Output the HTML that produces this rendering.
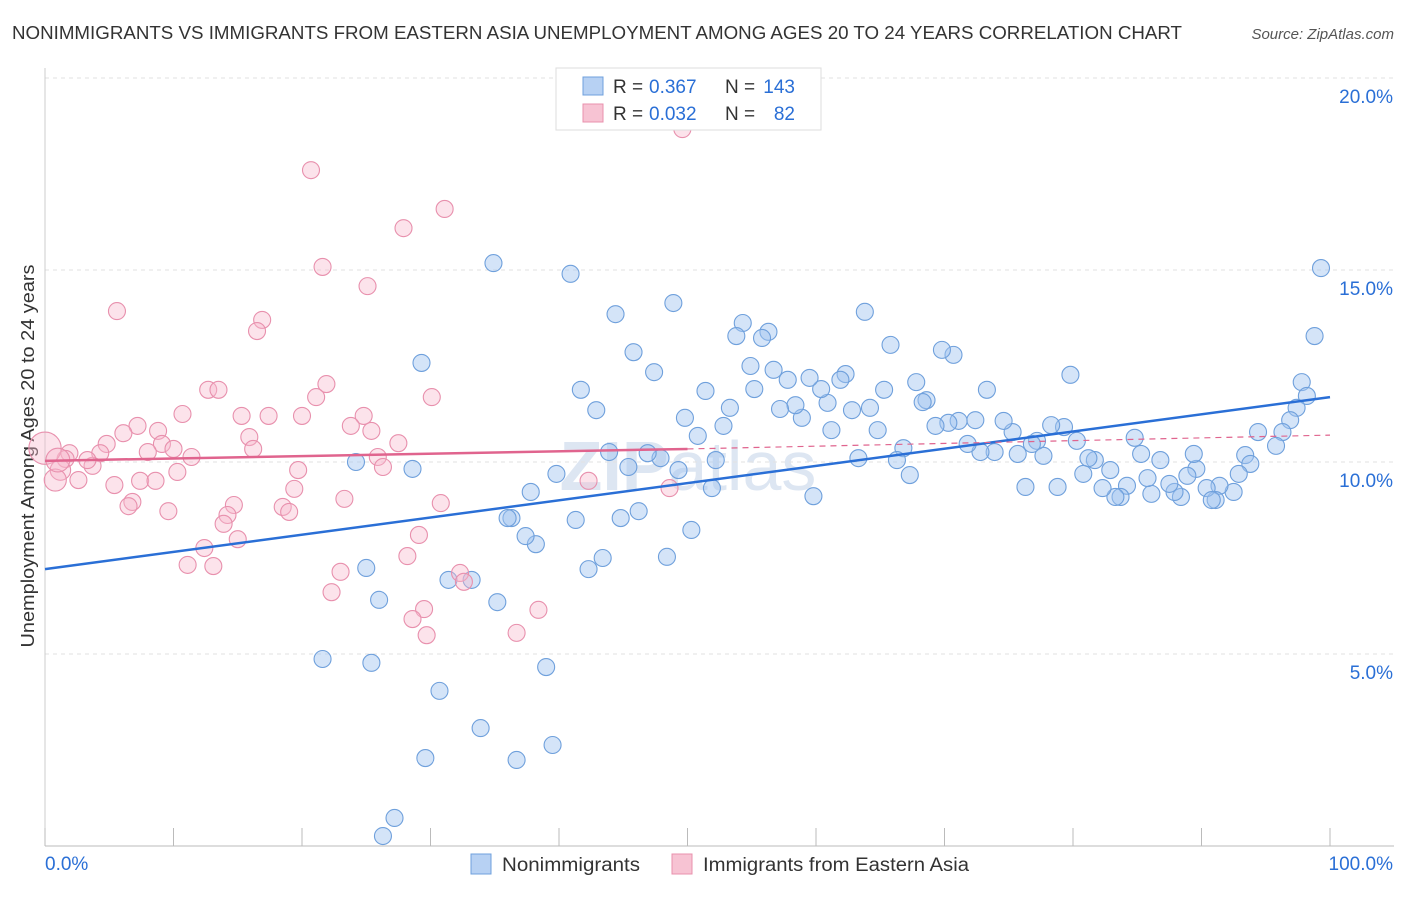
<!DOCTYPE html>
<html><head><meta charset="utf-8">
<style>
body{margin:0;background:#fff;font-family:"Liberation Sans",sans-serif;}
svg text{font-family:"Liberation Sans",sans-serif;}
</style></head>
<body>
<svg id="chart" width="1406" height="892" xmlns="http://www.w3.org/2000/svg">
<text x="12" y="39" font-size="18" fill="#333" textLength="1170" lengthAdjust="spacingAndGlyphs">NONIMMIGRANTS VS IMMIGRANTS FROM EASTERN ASIA UNEMPLOYMENT AMONG AGES 20 TO 24 YEARS CORRELATION CHART</text>
<text x="1394" y="39" font-size="15" fill="#555" text-anchor="end" font-style="italic">Source: ZipAtlas.com</text>
<text transform="translate(34,456) rotate(-90)" font-size="18" fill="#333" text-anchor="middle" textLength="383" lengthAdjust="spacingAndGlyphs">Unemployment Among Ages 20 to 24 years</text>
<text x="688" y="490" font-size="70" fill="#dde6f2" text-anchor="middle" font-weight="bold">ZIP<tspan font-weight="normal">atlas</tspan></text>
<g id="grid"></g><g id="axes"></g><g id="marks"></g><g id="trends"></g>
<g>
<rect x="556" y="68" width="265" height="62" fill="#fff" stroke="#ddd"/>
<rect x="583" y="77" width="20" height="18" fill="#b7d1f3" stroke="#6fa0dc"/>
<rect x="583" y="104" width="20" height="18" fill="#f7c3d3" stroke="#e890ad"/>
<text x="613" y="93" font-size="19" fill="#333">R =</text>
<text x="649" y="93" font-size="19" fill="#2a6fd6">0.367</text>
<text x="725" y="93" font-size="19" fill="#333">N =</text>
<text x="795" y="93" font-size="19" fill="#2a6fd6" text-anchor="end">143</text>
<text x="613" y="120" font-size="19" fill="#333">R =</text>
<text x="649" y="120" font-size="19" fill="#2a6fd6">0.032</text>
<text x="725" y="120" font-size="19" fill="#333">N =</text>
<text x="795" y="120" font-size="19" fill="#2a6fd6" text-anchor="end">82</text>
</g>
<g>
<rect x="471" y="854" width="20" height="20" fill="#b7d1f3" stroke="#6fa0dc"/>
<text x="502" y="871" font-size="19" fill="#333" textLength="138" lengthAdjust="spacingAndGlyphs">Nonimmigrants</text>
<rect x="672" y="854" width="20" height="20" fill="#f7c3d3" stroke="#e890ad"/>
<text x="703" y="871" font-size="19" fill="#333" textLength="266" lengthAdjust="spacingAndGlyphs">Immigrants from Eastern Asia</text>
</g>
</svg>
<script>
const blueX=[99.3,98.8,97.8,98.2,97.4,96.9,96.3,95.8,94.4,93.4,93.8,92.9,92.5,91.4,91.1,90.4,90.8,89.6,89.4,88.9,88.4,87.9,87.5,86.8,86.1,85.8,85.3,84.8,84.2,83.7,83.3,82.9,82.3,81.7,81.2,80.8,80.3,79.8,79.3,78.8,78.3,77.7,77.2,76.8,76.3,75.7,75.3,74.6,73.9,73.3,72.8,72.4,71.8,71.1,70.7,70.3,69.8,69.3,68.6,68.3,67.8,67.3,66.8,66.3,65.8,65.3,64.8,64.2,63.8,63.3,62.8,62.3,61.9,61.2,60.9,60.4,59.8,59.5,58.9,58.4,57.8,57.2,56.7,56.3,55.8,55.2,54.9,54.3,53.8,53.3,52.8,52.2,51.9,51.4,50.8,50.3,49.8,49.3,48.9,48.4,47.9,47.4,46.9,46.2,45.8,45.4,44.8,44.4,43.9,43.4,42.9,42.3,41.7,41.3,40.9,39.8,39.0,38.2,37.8,37.4,36.3,36.0,36.7,35.2,34.9,33.9,33.2,31.4,30.7,29.6,29.3,28.6,27.2,26.3,26.0,25.4,25.0,24.2,21.6,39.5];
const blueY=[15.05,13.28,12.08,11.72,11.41,11.09,10.78,10.42,10.78,10.18,9.95,9.69,9.22,9.38,9.01,9.32,9.01,9.82,10.21,9.64,9.09,9.22,9.43,10.05,9.17,9.58,10.21,10.63,9.38,9.09,9.09,9.79,9.32,10.05,10.10,9.69,10.55,12.27,10.91,9.35,10.96,10.16,10.55,10.47,9.35,10.21,10.78,11.07,10.26,11.88,10.26,11.09,10.47,11.07,12.79,11.02,12.92,10.94,11.61,11.56,12.08,9.66,10.36,10.05,13.05,11.88,10.83,11.41,13.91,10.10,11.35,12.29,12.14,10.83,11.54,11.90,9.11,12.19,11.15,11.48,12.14,11.38,12.40,13.39,13.23,11.90,12.50,13.62,13.28,11.41,10.94,10.05,9.32,11.85,10.68,8.23,11.15,9.79,14.14,7.53,10.10,12.34,10.23,8.72,12.86,9.87,8.54,13.85,10.26,7.50,11.35,7.21,11.88,8.49,14.90,9.69,4.66,7.86,9.22,8.07,8.54,8.54,2.24,6.35,15.18,3.07,6.93,6.93,4.04,2.29,12.58,9.82,0.73,0.26,6.41,4.77,7.24,10.00,4.87,2.63];
const pinkX=[49.6,20.7,31.1,27.9,21.6,25.1,5.6,16.9,16.5,21.9,12.7,13.5,30.1,21.1,10.7,15.3,17.4,20.0,24.8,7.2,23.8,25.4,6.1,8.8,15.9,4.8,9.1,27.5,16.2,8.0,10.0,1.9,4.3,1.6,25.9,11.4,3.7,3.3,19.7,26.3,10.3,1.2,0.8,2.6,7.4,8.6,5.4,42.3,48.6,19.4,23.3,30.8,14.7,6.8,6.5,18.5,19.0,9.6,14.2,13.9,15.0,29.1,12.4,28.2,11.1,13.1,23.0,32.3,32.6,22.3,38.4,29.5,28.6,29.7,36.7,0.0,1.0];
const pinkY=[18.67,17.60,16.59,16.09,15.08,14.58,13.93,13.70,13.41,12.03,11.88,11.88,11.69,11.69,11.25,11.20,11.20,11.20,11.20,10.94,10.94,10.81,10.75,10.81,10.65,10.47,10.47,10.49,10.34,10.26,10.34,10.23,10.23,10.08,10.13,10.13,9.90,10.05,9.79,9.87,9.74,9.79,9.53,9.53,9.51,9.51,9.40,9.51,9.32,9.30,9.04,8.93,8.88,8.96,8.85,8.83,8.70,8.72,8.62,8.39,7.99,8.10,7.76,7.55,7.32,7.29,7.14,7.11,6.88,6.61,6.15,6.17,5.91,5.49,5.55,10.36,10.05];
const pinkSize=[1,1,1,1,1,1,1,1,1,1,1,1,1,1,1,1,1,1,1,1,1,1,1,1,1,1,1,1,1,1,1,1,1,1,1,1,1,1,1,1,1,1.2,1.3,1,1,1,1,1,1,1,1,1,1,1,1,1,1,1,1,1,1,1,1,1,1,1,1,1,1,1,1,1,1,1,1,1.9,1.4];
const yTicks=[5,10,15,20];
const xTickLabels=["0.0%","100.0%"];
const blueTrend=[7.21,11.69];
const pinkTrend=[10.03,10.34,10.70];

const NS="http://www.w3.org/2000/svg";
const X0=45,X1=1330,Y0=846,PY=38.4;
const sx=v=>X0+(X1-X0)*v/100;
const sy=v=>Y0-v*PY;
function mk(tag,attrs,parent){const e=document.createElementNS(NS,tag);for(const k in attrs)e.setAttribute(k,attrs[k]);parent.appendChild(e);return e;}
const grid=document.getElementById('grid'),axes=document.getElementById('axes'),marks=document.getElementById('marks'),trends=document.getElementById('trends');
yTicks.forEach(t=>{
  const l=mk('line',{x1:X0,x2:1394,y1:sy(t),y2:sy(t),stroke:'#e2e2e2','stroke-dasharray':'4,4'},grid);
  
  
  const tx=mk('text',{x:1393,y:sy(t)+25,'font-size':19,fill:'#2a6fd6','text-anchor':'end'},axes);
  tx.textContent=t.toFixed(1)+'%';
  
  
});
const ax=mk('line',{x1:X0,x2:1394,y1:Y0,y2:Y0,stroke:'#bbb'},axes);


const ay=mk('line',{x1:X0,x2:X0,y1:68,y2:Y0,stroke:'#ccc'},axes);


for(let i=0;i<=10;i++){
  const t=mk('line',{x1:sx(i*10),x2:sx(i*10),y1:Y0,y2:Y0-18,stroke:'#bbb'},axes);
  
  
}
[[0,'start',45],[100,'end',1393]].forEach((d,i)=>{
  const t=mk('text',{x:d[2],y:870,'font-size':19,fill:'#2a6fd6','text-anchor':d[1]},axes);
  t.textContent=xTickLabels[i];
  
  
});
blueX.forEach((v,i)=>{
  const c=mk('circle',{cx:sx(v),cy:sy(blueY[i]),r:8.5,fill:'rgba(160,195,240,0.45)',stroke:'#6fa0dc','stroke-width':1.1},marks);
  
  
});
pinkX.forEach((v,i)=>{
  const c=mk('circle',{cx:sx(v),cy:sy(pinkY[i]),r:8.5*pinkSize[i],fill:'rgba(248,185,205,0.4)',stroke:'#e890ad','stroke-width':1.1},marks);
  
  
});
const bt=mk('line',{x1:sx(0),y1:sy(blueTrend[0]),x2:sx(100),y2:sy(blueTrend[1]),stroke:'#2a6fd6','stroke-width':2.5},trends);


const pt=mk('line',{x1:sx(0),y1:sy(pinkTrend[0]),x2:sx(50),y2:sy(pinkTrend[1]),stroke:'#e0648e','stroke-width':2.5},trends);


const pd=mk('line',{x1:sx(50),y1:sy(pinkTrend[1]),x2:sx(100),y2:sy(pinkTrend[2]),stroke:'#e0648e','stroke-width':1.2,'stroke-dasharray':'6,5'},trends);


</script>
</body></html>
